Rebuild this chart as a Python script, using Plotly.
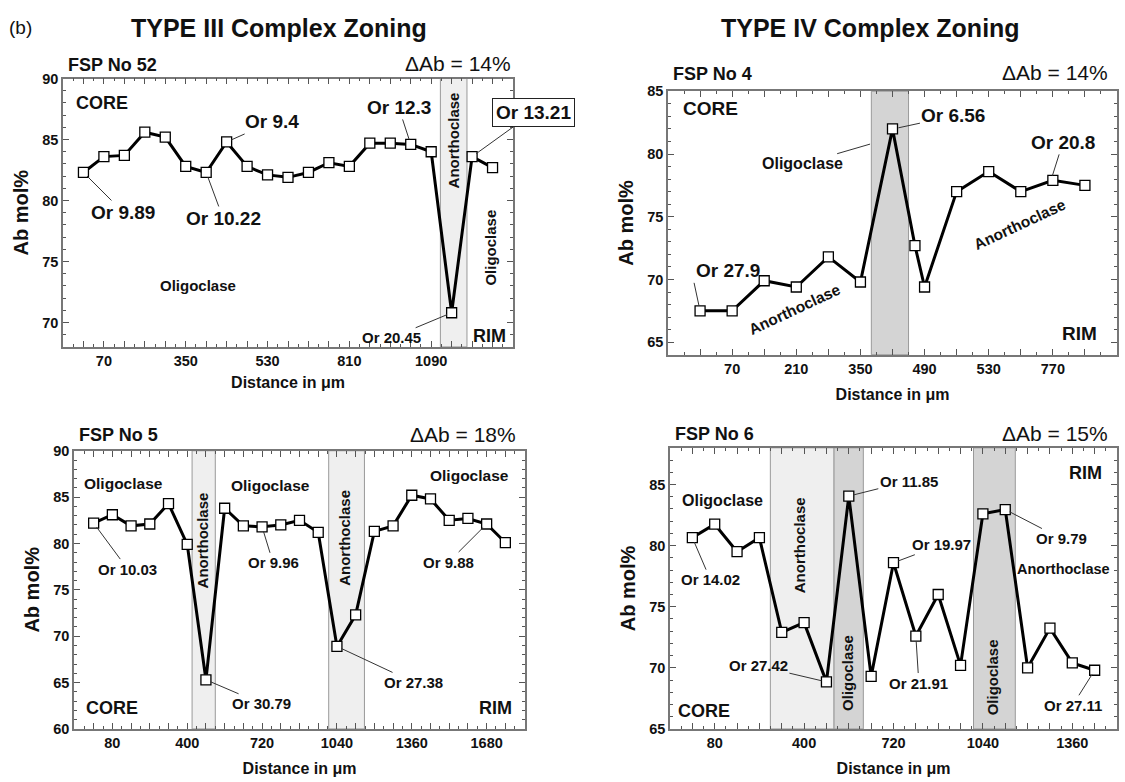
import plotly.graph_objects as go

W, H = 1125, 782
FONT = "Liberation Sans, Arial, Helvetica, sans-serif"

# ---------------- data ----------------
# Panel 1: FSP No 52 (TYPE III)
p1_pos = list(range(21))
p1_ab = [82.3, 83.6, 83.7, 85.6, 85.2, 82.8, 82.3, 84.8, 82.8, 82.1, 81.9,
         82.3, 83.1, 82.8, 84.7, 84.7, 84.6, 84.0, 70.8, 83.6, 82.7]
p1_tickpos = [1, 5, 9, 13, 17]
p1_ticklab = ["70", "350", "530", "810", "1090"]

# Panel 2: FSP No 4 (TYPE IV)
p2_pos = [0, 1, 2, 3, 4, 5, 6, 6.7, 7, 8, 9, 10, 11, 12]
p2_ab = [67.5, 67.5, 69.9, 69.4, 71.8, 69.8, 82.0, 72.7, 69.4, 77.0, 78.6,
         77.0, 77.9, 77.5]
p2_tickpos = [1, 3, 5, 7, 9, 11]
p2_ticklab = ["70", "210", "350", "490", "530", "770"]

# Panel 3: FSP No 5 (TYPE III)
p3_pos = list(range(23))
p3_ab = [82.2, 83.1, 81.9, 82.1, 84.3, 79.9, 65.3, 83.8, 81.9, 81.8, 82.0,
         82.5, 81.2, 68.9, 72.3, 81.3, 81.9, 85.2, 84.8, 82.5, 82.7, 82.1, 80.1]
p3_tickpos = [1, 5, 9, 13, 17, 21]
p3_ticklab = ["80", "400", "720", "1040", "1360", "1680"]

# Panel 4: FSP No 6 (TYPE IV)
p4_pos = list(range(19))
p4_ab = [80.65, 81.75, 79.5, 80.65, 72.9, 73.7, 68.85, 84.05, 69.3, 78.6,
         72.6, 76.0, 70.2, 82.6, 82.95, 70.0, 73.25, 70.4, 69.8]
p4_tickpos = [1, 5, 9, 13, 17]
p4_ticklab = ["80", "400", "720", "1040", "1360"]

# ---------------- layout geometry (pixels) ----------------
boxes = {
    1: dict(x0=63, x1=513, y0=72, y1=346, xr=[-1, 21], yr=[68, 90],
            yt=[70, 75, 80, 85, 90], dr=0, hg=14, so=9),
    2: dict(x0=668, x1=1117, y0=85, y1=354, xr=[-1, 13], yr=[64, 85],
            yt=[65, 70, 75, 80, 85], dr=7, hg=18, so=13),
    3: dict(x0=74, x1=525, y0=452, y1=736, xr=[-1.05, 23.05], yr=[60, 90],
            yt=[60, 65, 70, 75, 80, 85, 90], dr=7, hg=16, so=13),
    4: dict(x0=670, x1=1117, y0=449, y1=736, xr=[-1, 19], yr=[65, 88],
            yt=[65, 70, 75, 80, 85], dr=7, hg=14, so=13),
}
ticks = {1: (p1_tickpos, p1_ticklab), 2: (p2_tickpos, p2_ticklab),
         3: (p3_tickpos, p3_ticklab), 4: (p4_tickpos, p4_ticklab)}

fig = go.Figure()

series = {1: (p1_pos, p1_ab), 2: (p2_pos, p2_ab), 3: (p3_pos, p3_ab), 4: (p4_pos, p4_ab)}
for k, (xs, ys) in series.items():
    sfx = "" if k == 1 else str(k)
    fig.add_trace(go.Scatter(
        x=xs, y=ys, mode="lines+markers", xaxis="x" + sfx, yaxis="y" + sfx,
        line=dict(color="black", width=3),
        marker=dict(symbol="square", size=10, color="white",
                    line=dict(color="black", width=1.3)),
        showlegend=False, hoverinfo="skip", cliponaxis=False))

layout = dict(width=W, height=H, margin=dict(l=0, r=0, t=0, b=0),
              paper_bgcolor="white", plot_bgcolor="white",
              font=dict(family=FONT, color="#111"), showlegend=False)

TICKF = dict(size=14.5, family=FONT, color="#111", weight="bold")
for k, b in boxes.items():
    sfx = "" if k == 1 else str(k)
    tp, tl = ticks[k]
    allpos = list(range(int(b["xr"][0]) + 1, int(b["xr"][1]) + 1))
    alllab = [tl[tp.index(p)] if p in tp else "" for p in allpos]
    layout["xaxis" + sfx] = dict(
        domain=[b["x0"] / W, b["x1"] / W], range=b["xr"], anchor="y" + sfx,
        tickmode="array", tickvals=allpos, ticktext=alllab,
        ticks="inside", ticklen=6, tickwidth=1, tickcolor="#555",
        minor=dict(dtick=0.5, tick0=0, ticklen=3, ticks="inside", tickcolor="#555"),
        showline=True, linecolor="#777", linewidth=1.5, mirror="ticks",
        showgrid=False, zeroline=False, tickfont=TICKF,
        title=dict(text="<b>Distance in \u03bcm</b>", font=dict(size=16, family=FONT),
                   standoff=b["so"]),
    )
    layout["yaxis" + sfx] = dict(
        domain=[1 - b["y1"] / H, 1 - b["y0"] / H], range=b["yr"], anchor="x" + sfx,
        tickmode="array", tickvals=b["yt"],
        ticks="inside", ticklen=6, tickwidth=1, tickcolor="#555",
        minor=dict(dtick=1, ticklen=3, ticks="inside", tickcolor="#555"),
        showline=True, linecolor="#777", linewidth=1.5, mirror="ticks",
        showgrid=False, zeroline=False, tickfont=TICKF,
        title=dict(text="<b>Ab mol%</b>", font=dict(size=20, family=FONT), standoff=8),
    )

# ---------------- bands ----------------
LIGHT = "#efefef"
DARK = "#d4d4d4"
bands = [
    (1, 17.45, 18.75, LIGHT),
    (2, 5.34, 6.5, DARK),
    (3, 5.26, 6.5, LIGHT), (3, 12.56, 14.47, LIGHT),
    (4, 3.49, 6.34, LIGHT), (4, 6.34, 7.65, DARK), (4, 12.58, 14.45, DARK),
]
shapes = []
for k, a, c, col in bands:
    sfx = "" if k == 1 else str(k)
    shapes.append(dict(type="rect", xref="x" + sfx, yref="y" + sfx + " domain",
                       x0=a, x1=c, y0=0, y1=1, fillcolor=col,
                       line=dict(color="#9a9a9a", width=1), layer="below"))
layout["shapes"] = shapes

# ---------------- annotations ----------------
ann = []

def txt(k, x, y, t, size=15, bold=True, angle=0, xa="center", ya="middle"):
    sfx = "" if k == 1 else str(k)
    ann.append(dict(xref="x" + sfx, yref="y" + sfx, x=x, y=y,
                    text=("<b>%s</b>" % t) if bold else t, showarrow=False,
                    textangle=angle, xanchor=xa, yanchor=ya,
                    font=dict(size=size, family=FONT, color="#111")))

def lead(k, x, y, t, ax, ay, size=15, box=False, xa="auto", ya="auto"):
    sfx = "" if k == 1 else str(k)
    d = dict(xref="x" + sfx, yref="y" + sfx, x=x, y=y, text="<b>%s</b>" % t,
             showarrow=True, arrowhead=0, arrowwidth=1, arrowcolor="#333",
             ax=ax, ay=ay, standoff=5, xanchor=xa, yanchor=ya,
             font=dict(size=size, family=FONT, color="#111"))
    if box:
        d.update(bordercolor="#222", borderwidth=1, borderpad=3, bgcolor="white")
    ann.append(d)

def paper(px, py, t, size, bold=True, xa="left", ya="middle"):
    ann.append(dict(xref="paper", yref="paper", x=px / W, y=1 - py / H,
                    text=("<b>%s</b>" % t) if bold else t, showarrow=False,
                    xanchor=xa, yanchor=ya, font=dict(size=size, family=FONT, color="#111")))

# headers
paper(7, 20, "(b)", 19, bold=False)
paper(279, 20, "TYPE III Complex Zoning", 25, xa="center")
paper(870, 20, "TYPE IV Complex Zoning", 25, xa="center")
for k, name, dab in [(1, "FSP No 52", "14%"), (2, "FSP No 4", "14%"),
                     (3, "FSP No 5", "18%"), (4, "FSP No 6", "15%")]:
    b = boxes[k]
    paper(b["x0"] + 3, b["y0"] - b["hg"], name, 18)
    paper(b["x1"] - b["dr"], b["y0"] - b["hg"] - 1, "\u0394Ab = " + dab, 21, bold=False, xa="right")

# Panel 1
txt(1, -0.45, 88.0, "CORE", 18, xa="left")
txt(1, 20.75, 68.9, "RIM", 18, xa="right")
txt(1, 5.6, 73.0, "Oligoclase", 15)
txt(1, 18.1, 84.9, "Anorthoclase", 15, angle=-90)
txt(1, 19.9, 76.1, "Oligoclase", 15, angle=-90)
lead(1, 0, 82.3, "Or 9.89", 40, 40, 19)
lead(1, 6, 82.3, "Or 10.22", 17, 46, 19)
lead(1, 7, 84.8, "Or 9.4", 45, -20, 19)
lead(1, 16, 84.6, "Or 12.3", -12, -37, 19)
lead(1, 19, 83.6, "Or 13.21", 61, -44, 19, box=True)
lead(1, 18, 70.8, "Or 20.45", -60, 25, 15)

# Panel 2
txt(2, -0.6, 83.6, "CORE", 19, xa="left")
txt(2, 12.45, 65.7, "RIM", 19, xa="right")
lead(2, 6.03, 82.0, "Or 6.56", 60, -13, 19)
lead(2, 5.45, 80.9, "Oligoclase", -72, 21, 16)
lead(2, 10.94, 77.9, "Or 20.8", 12, -38, 19)
lead(2, 0, 67.5, "Or 27.9", -6, -28, 19, xa="left", ya="bottom")
txt(2, 2.93, 67.6, "Anorthoclase", 15.5, angle=-25)
txt(2, 9.95, 74.4, "Anorthoclase", 15.5, angle=-25)

# Panel 3
txt(3, -0.54, 62.3, "CORE", 18, xa="left")
txt(3, 22.45, 62.3, "RIM", 18, xa="right")
txt(3, 1.57, 86.45, "Oligoclase", 15.5)
txt(3, 9.45, 86.3, "Oligoclase", 15.5)
txt(3, 20.1, 87.35, "Oligoclase", 15.5)
txt(3, 5.83, 80.3, "Anorthoclase", 15, angle=-90)
txt(3, 13.4, 80.65, "Anorthoclase", 15, angle=-90)
lead(3, 0, 82.2, "Or 10.03", 34, 46, 15)
lead(3, 9, 81.8, "Or 9.96", 11, 36, 15)
lead(3, 21, 82.1, "Or 9.88", -38, 38, 15)
lead(3, 6, 65.3, "Or 30.79", 56, 24, 15)
lead(3, 13, 68.9, "Or 27.38", 77, 36, 15)

# Panel 4
txt(4, -0.75, 66.5, "CORE", 18, xa="left")
txt(4, 18.4, 85.9, "RIM", 18, xa="right")
txt(4, 1.33, 83.7, "Oligoclase", 16)
txt(4, 4.8, 80.0, "Anorthoclase", 15, angle=-90)
txt(4, 16.6, 78.1, "Anorthoclase", 14.5)
txt(4, 6.93, 69.6, "Oligoclase", 15, angle=-90)
txt(4, 13.44, 69.2, "Oligoclase", 15, angle=-90)
lead(4, 7, 84.05, "Or 11.85", 60, -15, 15)
lead(4, 9, 78.6, "Or 19.97", 48, -18, 15)
lead(4, 14, 82.95, "Or 9.79", 56, 29, 15)
lead(4, 0, 80.65, "Or 14.02", 18, 42, 15)
lead(4, 6, 68.85, "Or 27.42", -68, -16, 15)
lead(4, 10, 72.6, "Or 21.91", 3, 47, 15)
lead(4, 18, 69.8, "Or 27.11", -22, 35, 15)

layout["annotations"] = ann
fig.update_layout(**layout)
fig.write_html("out.html")
